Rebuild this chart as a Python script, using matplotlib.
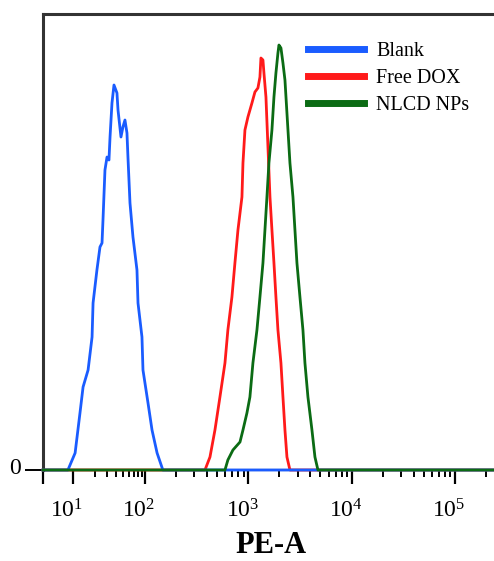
import numpy as np
import matplotlib
matplotlib.use("Agg")
import matplotlib.pyplot as plt
from matplotlib.transforms import ScaledTranslation
from matplotlib.ticker import FixedLocator, FixedFormatter, NullFormatter

plt.rcParams["font.family"] = ["Liberation Serif", "DejaVu Serif"]
plt.rcParams["mathtext.fontset"] = "custom"
plt.rcParams["mathtext.rm"] = "Liberation Serif"
plt.rcParams["mathtext.it"] = "Liberation Serif:italic"
plt.rcParams["mathtext.bf"] = "Liberation Serif:bold"

# PE-A fluorescence histograms (intensity, event count)
blank_pe = [8.5, 10.7, 12.5, 13.8, 16.2, 18.4, 19.0, 21.5, 23.7, 25.3, 26.1, 27.8,
            29.7, 31.6, 32.7, 34.8, 37.1, 40.8, 42.2, 46.4, 49.4, 52.7, 56.2, 58.0,
            61.9, 68.1, 77.4, 80.0, 90.8, 93.8, 107, 117, 131, 149]
blank_count = [0, 17, 57, 83, 100, 133, 167, 200, 223, 227, 250, 300,
               313, 310, 333, 367, 385, 377, 360, 333, 343, 350, 337, 313,
               267, 233, 200, 167, 133, 100, 67, 40, 17, 0]

dox_pe = [381, 426, 476, 532, 595, 635, 695, 743, 795, 869, 889, 929, 993, 1086,
          1161, 1241, 1298, 1327, 1388, 1419, 1484, 1552, 1623, 1696, 1774, 1854,
          1939, 2073, 2168, 2267, 2370, 2534]
dox_count = [0, 13, 40, 73, 107, 140, 173, 207, 240, 273, 307, 340, 353, 367,
             378, 382, 393, 412, 410, 397, 373, 323, 273, 240, 207, 173,
             140, 107, 73, 40, 13, 0]

nlcd_pe = [595, 635, 711, 832, 889, 971, 1038, 1110, 1214, 1298, 1388, 1451, 1517,
           1586, 1696, 1774, 1854, 1939, 1983, 2073, 2168, 2267, 2370, 2534, 2710,
           2833, 2962, 3167, 3386, 3540, 3785, 4139, 4425, 4731]
nlcd_count = [0, 10, 20, 28, 40, 57, 73, 107, 140, 173, 207, 240, 273,
              307, 340, 373, 397, 417, 425, 422, 407, 390, 357, 307, 273,
              240, 207, 173, 140, 107, 73, 40, 13, 0]

x_min, x_max = 3.83, 262143
y_max = 456

major_ticks = [x_min, 1e1, 1e2, 1e3, 1e4, 1e5]
major_labels = ["", "$10^{1}$", "$10^{2}$", "$10^{3}$", "$10^{4}$", "$10^{5}$"]
series_labels = ["Blank", "Free DOX", "NLCD NPs"]
series_colors = ["#1a5cff", "#ff1a1a", "#0b6b14"]


# display scale: compressed first decade, linear-in-log above 10^2
def fwd(v):
    L = np.log10(np.clip(np.asarray(v, dtype=float), 1e-3, None))
    return np.where(L <= 2, 72.0 * (L - 1), 72.0 + 103.3 * (L - 2))


def inv(p):
    p = np.asarray(p, dtype=float)
    L = np.where(p <= 72, 1 + p / 72.0, 2 + (p - 72.0) / 103.3)
    return 10.0 ** L


def padded(xs, ys):
    return [x_min] + list(xs) + [x_max], [0] + list(ys) + [0]


fig = plt.figure(figsize=(4.94, 5.61), dpi=100)
ax = fig.add_axes([43 / 494, 1 - 470 / 561, 455 / 494, 456 / 561])
ax.set_xscale("function", functions=(fwd, inv))
ax.set_xlim(x_min, x_max)
ax.set_ylim(0, y_max)

data = [(blank_pe, blank_count), (dox_pe, dox_count), (nlcd_pe, nlcd_count)]
zorders = [4, 3, 5]
for (xs, ys), lab, col, zo in zip(data, series_labels, series_colors, zorders):
    px, py = padded(xs, ys)
    ax.plot(px, py, color=col, lw=2.0, label=lab, zorder=zo, clip_on=False)

# axes frame
for side in ["left", "top"]:
    ax.spines[side].set_linewidth(2.2)
    ax.spines[side].set_color("#333333")
ax.spines["right"].set_visible(False)
ax.spines["bottom"].set_linewidth(1.5)
ax.spines["bottom"].set_color("black")

# x ticks
minor = [k * 10.0 ** d for d in range(1, 6) for k in range(2, 10) if k * 10.0 ** d < x_max]
ax.xaxis.set_major_locator(FixedLocator(major_ticks))
ax.xaxis.set_major_formatter(FixedFormatter(major_labels))
ax.xaxis.set_minor_locator(FixedLocator(minor))
ax.xaxis.set_minor_formatter(NullFormatter())
ax.tick_params(axis="x", which="major", direction="out", length=10, width=1.6,
               labelsize=17, pad=11, colors="black")
ax.tick_params(axis="x", which="minor", direction="out", length=5, width=1.4)
for lbl in ax.get_xticklabels():
    lbl.set_transform(lbl.get_transform() + ScaledTranslation(-6 / 100, 0, fig.dpi_scale_trans))

# y ticks
ax.set_yticks([0])
ax.set_yticklabels(["0"])
ax.tick_params(axis="y", direction="out", length=13, width=1.4, labelsize=17, pad=3)
for lbl in ax.get_yticklabels():
    lbl.set_transform(lbl.get_transform() + ScaledTranslation(0, 4 / 100, fig.dpi_scale_trans))

ax.set_xlabel("PE-A", fontsize=22, fontweight="bold", labelpad=6)

leg = ax.legend(loc="upper left", bbox_to_anchor=(308 / 494, 1 - 42 / 561),
                bbox_transform=fig.transFigure, frameon=False, fontsize=14.5,
                handlelength=2.8, handletextpad=0.6, labelspacing=0.4,
                borderpad=0, borderaxespad=0)
for h in leg.get_lines():
    h.set_linewidth(5)

fig.savefig("out.png", dpi=100)
